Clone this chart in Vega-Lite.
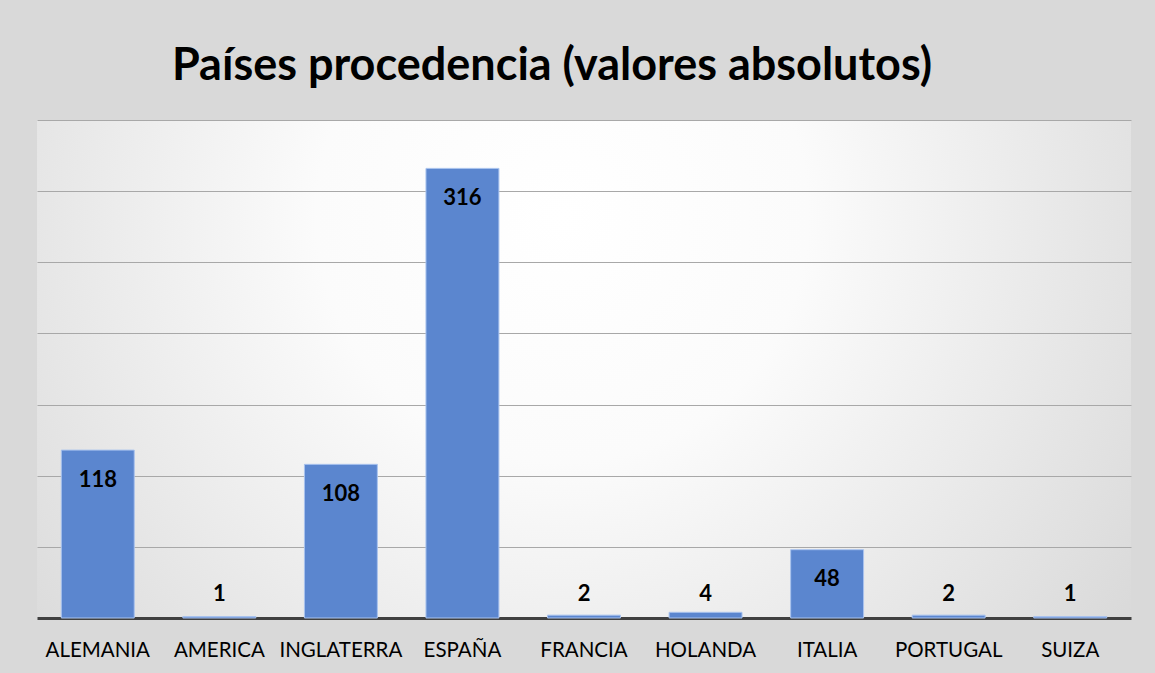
{
  "$schema": "https://vega.github.io/schema/vega-lite/v6.json",
  "width": 1094,
  "height": 498,
  "padding": {"left": 37, "top": 44, "right": 24, "bottom": 12},
  "background": "#d9d9d9",
  "title": {
    "text": "Países procedencia (valores absolutos)",
    "font": "Lato",
    "fontSize": 45,
    "fontWeight": "bold",
    "color": "#000000",
    "anchor": "middle",
    "dx": -32,
    "offset": 31
  },
  "config": {
    "view": {
      "stroke": null,
      "fill": {
        "gradient": "radial",
        "x1": 0.48, "y1": 0.36, "r1": 0,
        "x2": 0.48, "y2": 0.36, "r2": 0.75,
        "stops": [
          {"offset": 0, "color": "#ffffff"},
          {"offset": 0.3, "color": "#fbfbfb"},
          {"offset": 1, "color": "#d0d0d0"}
        ]
      }
    },
    "font": "Lato"
  },
  "data": {
    "values": [
      {"pais": "ALEMANIA", "n": 118},
      {"pais": "AMERICA", "n": 1},
      {"pais": "INGLATERRA", "n": 108},
      {"pais": "ESPAÑA", "n": 316},
      {"pais": "FRANCIA", "n": 2},
      {"pais": "HOLANDA", "n": 4},
      {"pais": "ITALIA", "n": 48},
      {"pais": "PORTUGAL", "n": 2},
      {"pais": "SUIZA", "n": 1}
    ]
  },
  "encoding": {
    "x": {
      "field": "pais",
      "type": "nominal",
      "sort": null,
      "scale": {"paddingInner": 0.4, "paddingOuter": 0.2},
      "axis": {
        "title": null,
        "labelAngle": 0,
        "labelFontSize": 20.5,
        "labelColor": "#000000",
        "labelFont": "Lato",
        "labelPadding": 22,
        "ticks": false,
        "domainColor": "#404040",
        "domainWidth": 3,
        "grid": false
      }
    },
    "y": {
      "field": "n",
      "type": "quantitative",
      "scale": {"domain": [0, 350], "nice": false},
      "axis": {
        "title": null,
        "labels": false,
        "ticks": false,
        "domain": false,
        "values": [50, 100, 150, 200, 250, 300, 350],
        "gridColor": "#a8a8a8",
        "gridWidth": 1
      }
    }
  },
  "layer": [
    {
      "mark": {"type": "bar", "color": "#5b86cf", "stroke": "#a9c3ee", "strokeWidth": 1}
    },
    {
      "transform": [{"filter": "datum.n >= 20"}],
      "mark": {"type": "text", "dy": 29.5, "fontSize": 22, "fontWeight": "bold", "color": "#000000"},
      "encoding": {"text": {"field": "n", "type": "quantitative"}}
    },
    {
      "transform": [{"filter": "datum.n < 20"}],
      "mark": {"type": "text", "dy": -24, "fontSize": 22, "fontWeight": "bold", "color": "#000000"},
      "encoding": {
        "y": {"datum": 0, "type": "quantitative"},
        "text": {"field": "n", "type": "quantitative"}
      }
    }
  ]
}
